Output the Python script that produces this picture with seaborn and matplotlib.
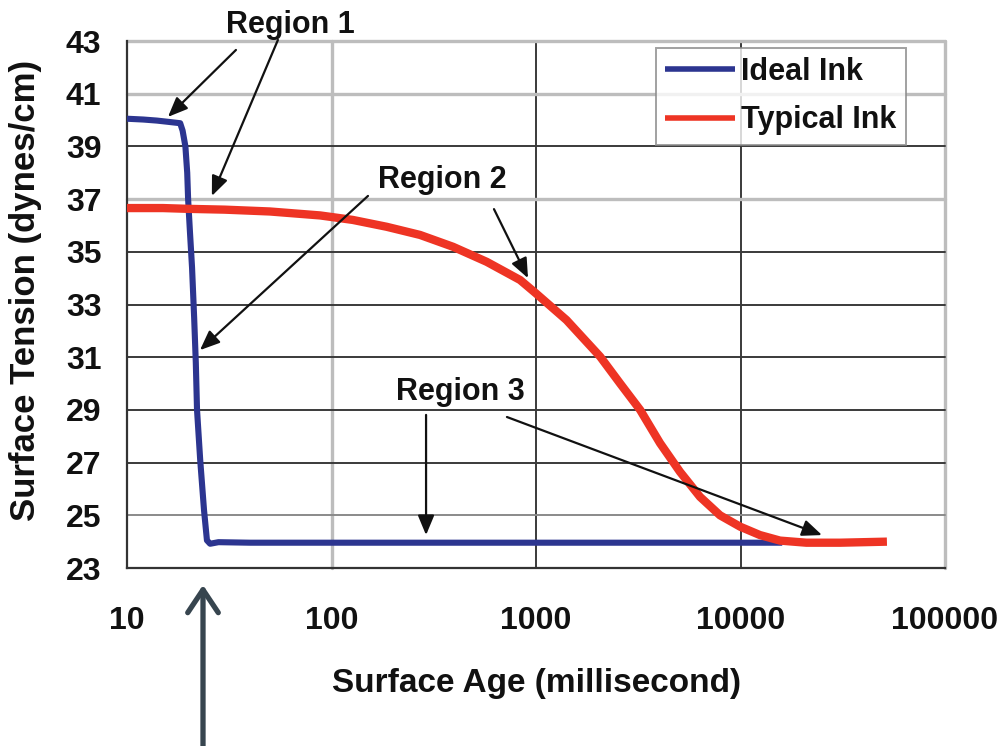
import numpy as np
import pandas as pd
import matplotlib
matplotlib.use("Agg")
import matplotlib.pyplot as plt
import matplotlib.ticker as mticker
import seaborn as sns

# ---------------- data ----------------
ideal_x = [10, 12, 14, 16, 18.2, 18.7, 19.3, 19.7, 19.9, 20.3, 20.8, 21.3, 21.7, 22.0,
           22.8, 23.8, 24.6, 25.5, 28, 40, 100, 300, 1000, 3000, 10000, 16000]
ideal_y = [40.05, 40.02, 39.98, 39.93, 39.88, 39.6, 39.0, 38.0, 37.0, 35.8, 34.4, 32.5,
           30.8, 29.0, 27.1, 25.2, 24.05, 23.92, 23.98, 23.96, 23.96, 23.96, 23.96,
           23.96, 23.96, 23.96]

typical_x = [10, 15, 20, 30, 50, 88, 127, 186, 271, 393, 574, 836, 1000, 1410, 2060,
             2580, 3230, 4040, 5060, 6340, 7940, 9950, 12450, 15600, 21000, 30700, 52000]
typical_y = [36.66, 36.66, 36.63, 36.6, 36.53, 36.38, 36.21, 35.95, 35.64, 35.19, 34.62,
             33.93, 33.42, 32.41, 31.02, 30.0, 29.0, 27.74, 26.65, 25.7, 25.0, 24.57,
             24.25, 24.04, 23.96, 23.96, 24.0]

series_names = ["Ideal Ink", "Typical Ink"]
x_ticks = [10, 100, 1000, 10000, 100000]
x_tick_labels = ["10", "100", "1000", "10000", "100000"]
y_ticks = [23, 25, 27, 29, 31, 33, 35, 37, 39, 41, 43]
y_tick_labels = [str(v) for v in y_ticks]

x_label = "Surface Age (millisecond)"
y_label = "Surface Tension (dynes/cm)"

df = pd.concat([
    pd.DataFrame({"age": ideal_x, "tension": ideal_y, "ink": series_names[0]}),
    pd.DataFrame({"age": typical_x, "tension": typical_y, "ink": series_names[1]}),
], ignore_index=True)

# ---------------- style ----------------
sns.set_theme(style="white")
plt.rcParams["font.family"] = ["Liberation Sans", "DejaVu Sans"]
plt.rcParams["font.weight"] = "bold"

palette = {"Ideal Ink": "#2c3590", "Typical Ink": "#ee3424"}

fig = plt.figure(figsize=(9.99, 7.46), dpi=100)
fig.patch.set_facecolor("white")
ax = fig.add_axes([127 / 999, 1 - 568 / 746, 818 / 999, 527 / 746])

sns.lineplot(data=df, x="age", y="tension", hue="ink", hue_order=series_names,
             palette=palette, estimator=None, sort=True, ax=ax, linewidth=4.6,
             solid_capstyle="butt", zorder=3)
for ln, lw in zip(ax.get_lines()[:2], [4.4, 6.0]):
    ln.set_linewidth(lw)
    ln.set_solid_joinstyle("round")

ax.set_xscale("log")
ax.set_xlim(10, 100000)
ax.set_ylim(23, 43)

ax.set_xticks(x_ticks)
ax.set_xticklabels(x_tick_labels)
ax.xaxis.set_minor_locator(mticker.LogLocator(base=10, subs=np.arange(2, 10), numticks=20))
ax.xaxis.set_minor_formatter(mticker.NullFormatter())
ax.set_yticks(y_ticks)
ax.set_yticklabels(y_tick_labels)
ax.yaxis.set_minor_locator(mticker.MultipleLocator(0.5))

ax.tick_params(axis="both", which="major", direction="out", length=9.5, width=1.3,
               color="#333333", labelsize=23, labelcolor="#111111")
ax.tick_params(axis="x", which="major", pad=18)
ax.tick_params(axis="y", which="major", pad=9)
ax.tick_params(axis="both", which="minor", direction="in", length=5, width=1.0,
               color="#444444")
for lab in ax.get_xticklabels() + ax.get_yticklabels():
    lab.set_fontweight("bold")

# grid
ax.grid(True, which="major", zorder=0)
ax.set_axisbelow(True)
light = ("#bdbdbd", 2.4)
dark = ("#3a3a3a", 1.4)
mid = ("#8a8a8a", 1.4)
y_grid_style = {23: dark, 25: mid, 27: dark, 29: dark, 31: dark, 33: dark, 35: dark,
                37: light, 39: dark, 41: light, 43: light}
x_grid_style = {10: dark, 100: light, 1000: dark, 10000: dark, 100000: light}
for val, gl in zip(y_ticks, ax.get_ygridlines()):
    c, w = y_grid_style[val]
    gl.set_color(c); gl.set_linewidth(w); gl.set_clip_on(False)
for val, gl in zip(x_ticks, ax.get_xgridlines()):
    c, w = x_grid_style[val]
    gl.set_color(c); gl.set_linewidth(w); gl.set_clip_on(False)

for s in ["top", "right"]:
    ax.spines[s].set_visible(False)
for s in ["left", "bottom"]:
    ax.spines[s].set_color("#333333")
    ax.spines[s].set_linewidth(1.6)

ax.set_xlabel(x_label, fontsize=24, fontweight="bold", color="#111111")
ax.set_ylabel(y_label, fontsize=25, fontweight="bold", color="#111111")
ax.xaxis.set_label_coords(0.5, -0.19)
ax.yaxis.set_label_coords(-0.104, 0.526)

# legend
leg = ax.legend(loc="upper right", bbox_to_anchor=(0.952, 0.987), borderaxespad=0,
                fontsize=22, frameon=True, fancybox=False, handlelength=2.3,
                handletextpad=0.2, labelspacing=0.6, borderpad=0.3)
leg.get_frame().set_edgecolor("#8a8a8a")
leg.get_frame().set_linewidth(1.4)
for t in leg.get_texts():
    t.set_fontweight("bold")
    t.set_color("#111111")
for ln in leg.get_lines():
    ln.set_linewidth(4.0)

# region annotations
txt_kw = dict(fontsize=22, fontweight="bold", color="#111111", ha="center", va="center")
ax.text(62.7, 43.6, "Region 1", clip_on=False, **txt_kw)
ax.text(347, 37.72, "Region 2", **txt_kw)
ax.text(425, 29.68, "Region 3", **txt_kw)

arrow_kw = dict(arrowstyle="-|>,head_length=0.6,head_width=0.25", color="#111111",
                lw=1.6, shrinkA=0, shrinkB=0, mutation_scale=20)
arrows = [((34.1, 42.66), (15.86, 40.12)),
          ((54.7, 43.04), (26.0, 37.12)),
          ((150.8, 37.12), (22.75, 31.27)),
          ((623, 36.62), (914, 34.0)),
          ((290, 28.81), (290, 24.25)),
          ((721, 28.73), (25030, 24.25))]
for start, end in arrows:
    ax.annotate("", xy=end, xytext=start, xycoords="data", textcoords="data",
                arrowprops=dict(**arrow_kw), annotation_clip=False, zorder=5)

# big arrow under the axis
ax.annotate("", xy=(203, 746 - 585), xytext=(203, 0), xycoords="figure pixels",
            textcoords="figure pixels",
            arrowprops=dict(arrowstyle="->,head_length=0.75,head_width=0.5",
                            color="#37454f", lw=3.8, shrinkA=0, shrinkB=0,
                            mutation_scale=22),
            annotation_clip=False)

fig.savefig("out.png", dpi=100, facecolor="white")
